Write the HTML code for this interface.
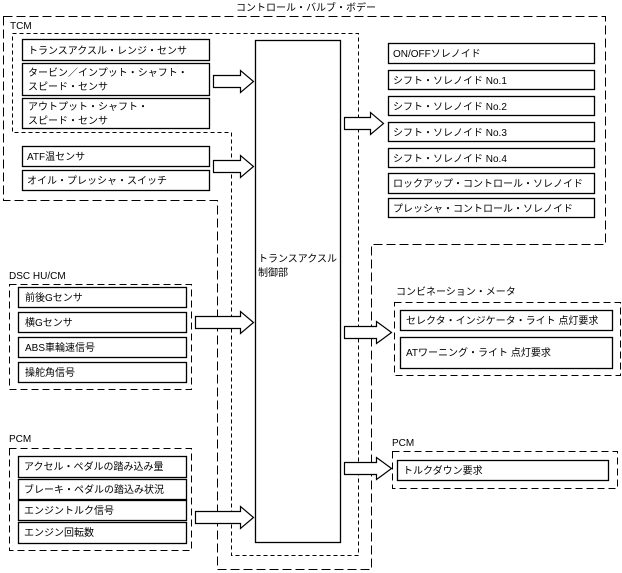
<!DOCTYPE html>
<html><head><meta charset="utf-8"><style>
html,body{margin:0;padding:0;background:#fff;}
svg{display:block;}
text{font-family:"Liberation Sans","Noto Sans CJK JP",sans-serif;font-size:10px;fill:#000;}
</style></head><body>
<svg width="622" height="573" viewBox="0 0 622 573" xmlns="http://www.w3.org/2000/svg">
<g fill="none" stroke="#000" stroke-width="1">
<path d="M3.5 16.5 H605.5 V244.5 H371.5 V569.5 H217.5 V200.5 H3.5 Z" stroke-dasharray="9,4"/>
<path d="M12.5 33.5 H358.5 V555.5 H231.5 V132.5 H12.5 Z" stroke-dasharray="4,3"/>
<rect x="9.5" y="284.5" width="182" height="105" stroke-dasharray="7,4"/>
<rect x="9.5" y="448.5" width="182" height="102" stroke-dasharray="7,4"/>
<rect x="394.5" y="302.5" width="226" height="73" stroke-dasharray="7,4"/>
<rect x="392.5" y="451.5" width="225" height="37" stroke-dasharray="7,4"/>
</g>
<g fill="#fff" stroke="#000" stroke-width="1.3">
<rect x="255.5" y="40.5" width="85" height="502"/>
<rect x="22.5" y="39.5" width="187" height="21"/>
<rect x="22.5" y="63.5" width="187" height="32"/>
<rect x="22.5" y="98.5" width="187" height="30"/>
<rect x="22.5" y="146.5" width="187" height="20"/>
<rect x="22.5" y="170.5" width="187" height="20"/>
<rect x="18.5" y="287.5" width="168" height="20"/>
<rect x="18.5" y="312.5" width="168" height="20"/>
<rect x="18.5" y="337.5" width="168" height="20"/>
<rect x="18.5" y="362.5" width="168" height="20"/>
<rect x="18.5" y="456.5" width="168" height="21"/>
<rect x="18.5" y="479.5" width="168" height="20"/>
<rect x="18.5" y="500.5" width="168" height="20"/>
<rect x="18.5" y="522.5" width="168" height="21"/>
<rect x="388.5" y="43.5" width="206" height="20"/>
<rect x="388.5" y="70.5" width="206" height="19"/>
<rect x="388.5" y="96.5" width="206" height="19"/>
<rect x="388.5" y="122.5" width="206" height="19"/>
<rect x="388.5" y="148.5" width="206" height="19"/>
<rect x="388.5" y="173.5" width="206" height="20"/>
<rect x="388.5" y="198.5" width="206" height="19"/>
<rect x="400.5" y="310.5" width="212" height="20"/>
<rect x="400.5" y="337.5" width="212" height="31"/>
<rect x="397.5" y="460.5" width="211" height="20"/>
</g>
<g fill="#fff" stroke="#000" stroke-width="1.2">
<path d="M213.5 75.5 H240.5 V70.5 L253.5 81.5 L240.5 92.5 V87.5 H213.5 Z"/>
<path d="M213.5 160.5 H240.5 V155.5 L253.5 166.5 L240.5 177.5 V172.5 H213.5 Z"/>
<path d="M195.5 316.5 H240.5 V311.5 L253.5 322.5 L240.5 333.5 V328.5 H195.5 Z"/>
<path d="M195.5 511.5 H240.5 V506.5 L253.5 517.5 L240.5 528.5 V523.5 H195.5 Z"/>
<path d="M344.5 117.5 H370.5 V112.5 L383.5 123.5 L370.5 134.5 V129.5 H344.5 Z"/>
<path d="M344.5 326.5 H376.5 V321.5 L391.5 332.5 L376.5 343.5 V338.5 H344.5 Z"/>
<path d="M344.5 462.5 H376.5 V457.5 L391.5 468.5 L376.5 479.5 V474.5 H344.5 Z"/>
</g>
<g>
<text x="236" y="11">コントロール・バルブ・ボデー</text>
<text x="10" y="29">TCM</text>
<text x="28" y="54">トランスアクスル・レンジ・センサ</text>
<text x="28" y="76">タービン／インプット・シャフト・</text>
<text x="28" y="90">スピード・センサ</text>
<text x="28" y="110">アウトプット・シャフト・</text>
<text x="28" y="124">スピード・センサ</text>
<text x="27" y="160">ATF温センサ</text>
<text x="27" y="184">オイル・プレッシャ・スイッチ</text>
<text x="258" y="262">トランスアクスル</text>
<text x="258" y="276">制御部</text>
<text x="9" y="279">DSC HU/CM</text>
<text x="25" y="301">前後Gセンサ</text>
<text x="25" y="326">横Gセンサ</text>
<text x="25" y="351">ABS車輪速信号</text>
<text x="25" y="376">操舵角信号</text>
<text x="9" y="442">PCM</text>
<text x="24" y="470">アクセル・ペダルの踏み込み量</text>
<text x="24" y="493">ブレーキ・ペダルの踏込み状況</text>
<text x="24" y="514">エンジントルク信号</text>
<text x="24" y="536">エンジン回転数</text>
<text x="393" y="57">ON/OFFソレノイド</text>
<text x="393" y="84">シフト・ソレノイド No.1</text>
<text x="393" y="110">シフト・ソレノイド No.2</text>
<text x="393" y="136">シフト・ソレノイド No.3</text>
<text x="393" y="162">シフト・ソレノイド No.4</text>
<text x="393" y="187">ロックアップ・コントロール・ソレノイド</text>
<text x="393" y="212">プレッシャ・コントロール・ソレノイド</text>
<text x="396" y="295">コンビネーション・メータ</text>
<text x="406" y="324">セレクタ・インジケータ・ライト 点灯要求</text>
<text x="406" y="356">ATワーニング・ライト 点灯要求</text>
<text x="392" y="446">PCM</text>
<text x="403" y="474">トルクダウン要求</text>
</g>
</svg>
</body></html>
